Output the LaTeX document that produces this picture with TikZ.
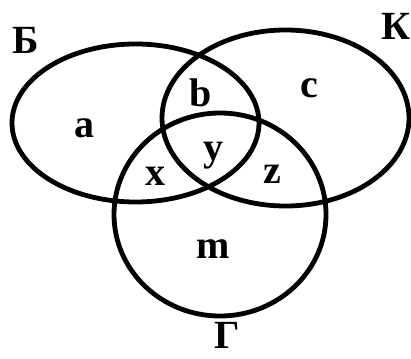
\documentclass[tikz,border=0pt]{standalone}
\usepackage{fontspec}
\setmainfont{Liberation Serif}
\begin{document}
\begin{tikzpicture}[x=1pt,y=-1pt,
  setline/.style={line width=4.8pt},
  lbl/.style={font=\fontsize{40}{40}\selectfont\bfseries, inner sep=0pt, anchor=base}]
\useasboundingbox (0,0) rectangle (411,358);
\draw[setline] (135.5,123) ellipse [x radius=123.5pt, y radius=79pt];
\draw[setline] (285.5,118) ellipse [x radius=123.5pt, y radius=88pt];
\draw[setline] (220,214.5) ellipse [x radius=106pt, y radius=101.5pt];
\node[lbl] (lB) at (26,54) {Б};
\node[lbl] (lK) at (396,40) {К};
\node[lbl] (lG) at (227,348) {Г};
\node[lbl] (la) at (84,137) {a};
\node[lbl] (lb) at (201,107) {b};
\node[lbl] (lc) at (309,98) {c};
\node[lbl] (ly) at (213,160) {y};
\node[lbl] (lx) at (155,185) {x};
\node[lbl] (lz) at (272,183) {z};
\node[lbl] (lm) at (213,258) {m};
\end{tikzpicture}
\end{document}
